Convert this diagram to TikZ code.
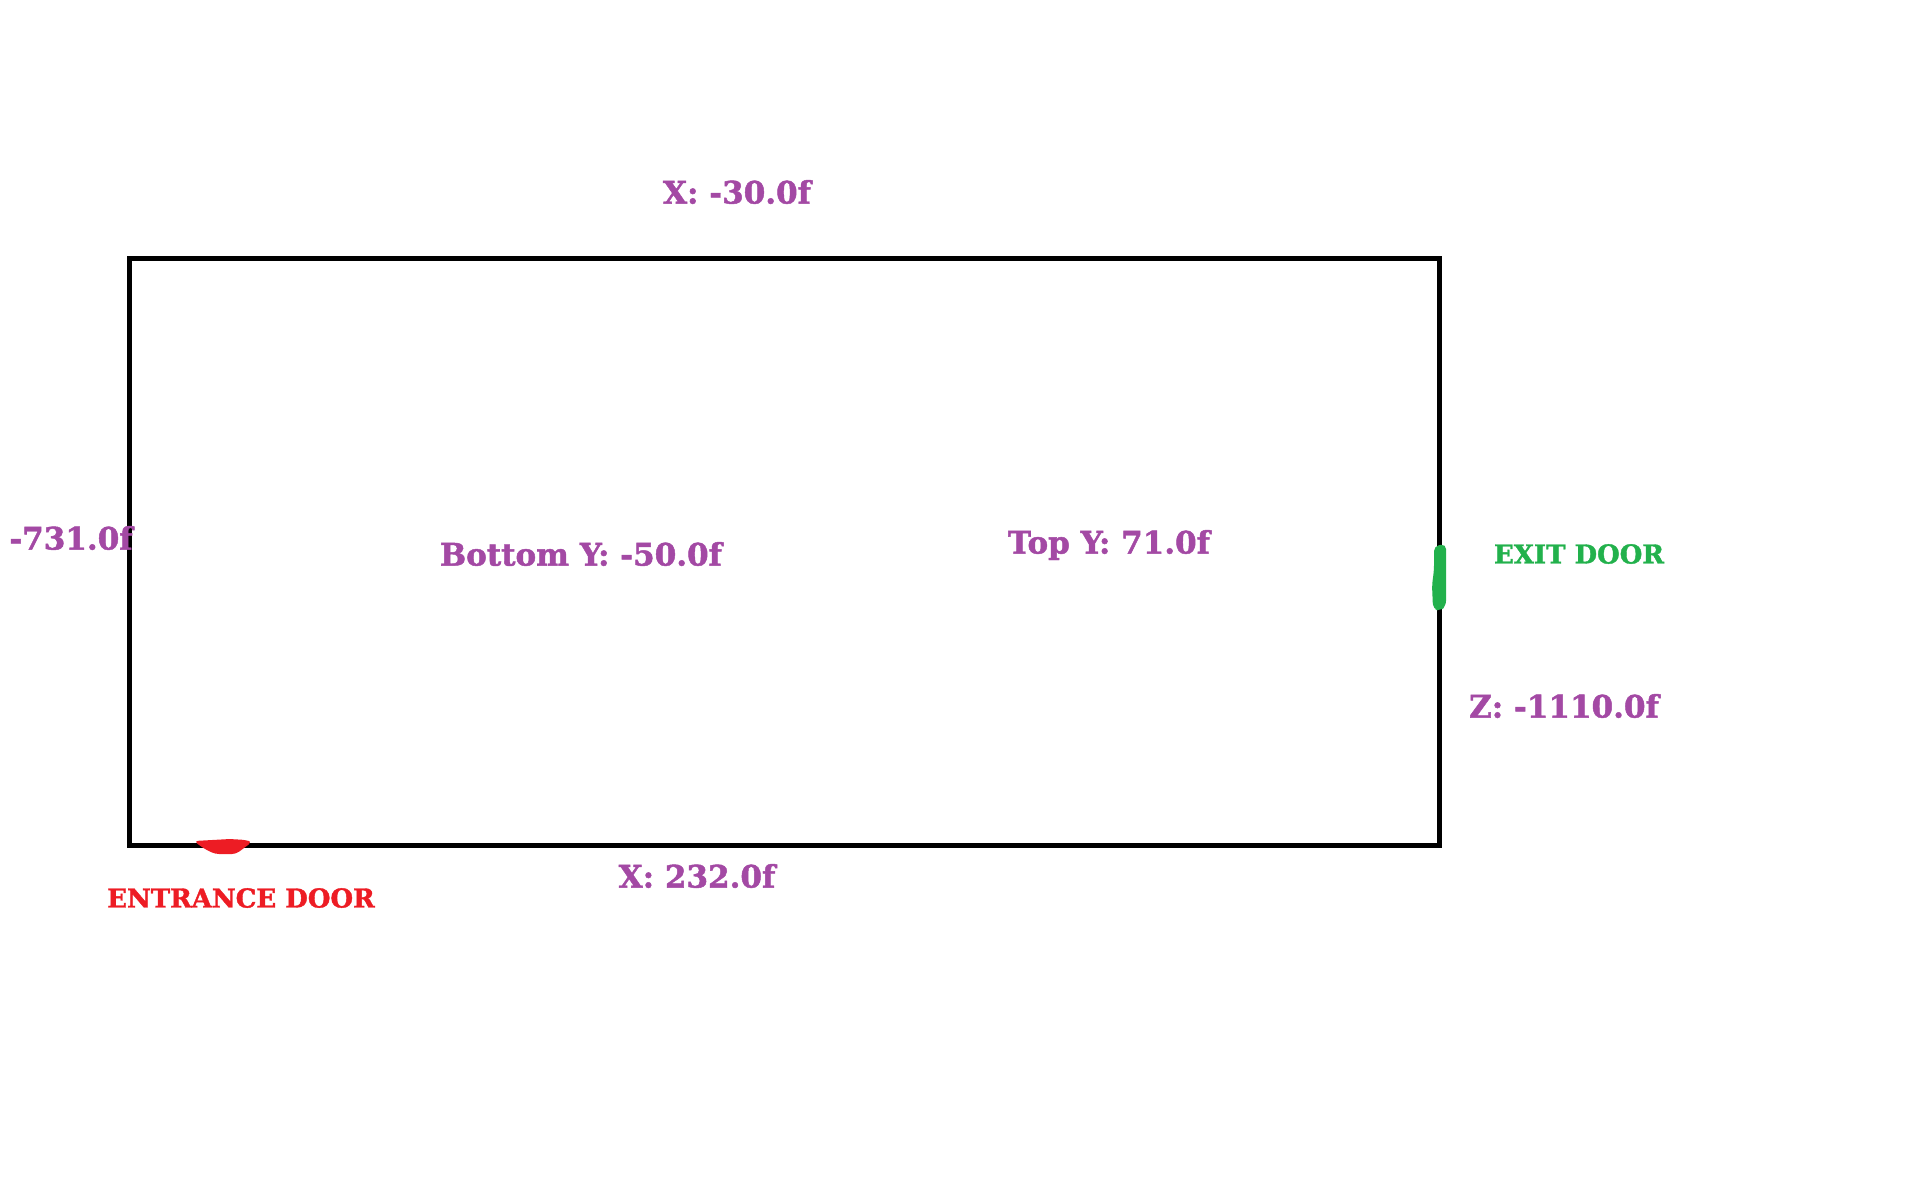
\documentclass[tikz,border=0pt]{standalone}
\usepackage{fontspec}
\setmainfont{DejaVu Serif}[BoldFeatures={FakeBold=1.5}]
\definecolor{lblpurple}{HTML}{A349A4}
\definecolor{doorred}{HTML}{ED1C24}
\definecolor{doorgreen}{HTML}{22B14C}
\begin{document}
\begin{tikzpicture}[x=1pt,y=-1pt,
  lbl/.style={inner sep=0pt, text=lblpurple, font=\fontsize{31}{33}\selectfont\bfseries},
  doorlbl/.style={inner sep=0pt, font=\fontsize{26}{28}\selectfont\bfseries},
  wall/.style={draw=black, line width=5pt}]
\useasboundingbox (0,0) rectangle (1926,1200);
\draw[wall] (129,258) rectangle (1439,845);
% doors
\fill[doorgreen, rounded corners=5pt] (1434,546) -- (1446,544) -- (1446,606) -- (1440,611) -- (1433,609) -- (1432,585) -- (1434,570) -- cycle;
\fill[doorred, rounded corners=4pt] (194,841) -- (230,839) -- (246,840) -- (252,842) -- (244,848) -- (236,854) -- (215,854) -- (203,848) -- cycle;
% labels
\node[lbl] (xtop) at (737,192) {X: -30.0f};
\node[lbl] (zleft) at (71,538) {-731.0f};
\node[lbl] (boty) at (581,554) {Bottom Y: -50.0f};
\node[lbl] (topy) at (1109,545) {Top Y: 71.0f};
\node[lbl] (zright) at (1564,706) {Z: -1110.0f};
\node[lbl] (xbot) at (697,876) {X: 232.0f};
\node[doorlbl, text=doorgreen] (exit) at (1579,554) {EXIT DOOR};
\node[doorlbl, text=doorred] (entr) at (241,898) {ENTRANCE DOOR};
\end{tikzpicture}
\end{document}
